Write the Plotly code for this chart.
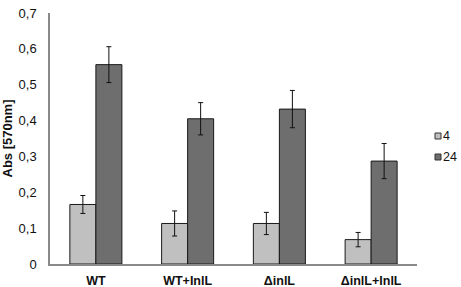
import plotly.graph_objects as go

categories = ["WT", "WT+InlL", "ΔinlL", "ΔinlL+InlL"]
series_names = ["4", "24"]
values_4 = [0.166, 0.113, 0.113, 0.068]
errors_4 = [0.025, 0.035, 0.031, 0.020]
values_24 = [0.556, 0.405, 0.432, 0.287]
errors_24 = [0.050, 0.045, 0.052, 0.049]
ytick_vals = [0, 0.1, 0.2, 0.3, 0.4, 0.5, 0.6, 0.7]
ytick_text = ["0", "0,1", "0,2", "0,3", "0,4", "0,5", "0,6", "0,7"]

font = "Liberation Sans, Arial, sans-serif"
colors = ["#c0c0c0", "#6e6e6e"]

fig = go.Figure()
for name, vals, errs, col in [(series_names[0], values_4, errors_4, colors[0]),
                              (series_names[1], values_24, errors_24, colors[1])]:
    fig.add_trace(go.Bar(
        x=categories, y=vals, name=name, showlegend=False,
        marker=dict(color=col, line=dict(color="#1a1a1a", width=1)),
        error_y=dict(type="data", array=errs, color="#111111", thickness=1, width=2.5),
    ))

W, H = 461, 287
ml, mr, mt, mb = 50, 44, 13, 23
pw, ph = W - ml - mr, H - mt - mb

def px_to_paper_x(px):
    return (px - ml) / pw

def px_to_paper_y(py):
    return (H - mb - py) / ph

# compact legend with small squares like the original
legend_y = [136, 157]
for name, col, yc in zip(series_names, colors, legend_y):
    fig.add_shape(type="rect", xref="paper", yref="paper",
                  x0=px_to_paper_x(435), x1=px_to_paper_x(441),
                  y0=px_to_paper_y(yc + 3), y1=px_to_paper_y(yc - 3),
                  fillcolor=col, line=dict(color="#333333", width=1))
    fig.add_annotation(xref="paper", yref="paper",
                       x=px_to_paper_x(441), y=px_to_paper_y(yc),
                       xanchor="left", yanchor="middle", showarrow=False,
                       text=name, font=dict(size=12.5, family=font, color="#111111"))

fig.update_layout(
    width=W, height=H,
    margin=dict(l=ml, r=mr, t=mt, b=mb),
    paper_bgcolor="white", plot_bgcolor="white",
    barmode="group", bargap=0.433, bargroupgap=0,
    font=dict(family=font, size=12, color="#111111"),
    showlegend=False,
    xaxis=dict(showline=True, linecolor="#8a8a8a", linewidth=1.5,
               ticks="", showgrid=False, automargin=False,
               ticklabelstandoff=4,
               tickfont=dict(size=12.5, family=font, weight="bold")),
    yaxis=dict(range=[0, 0.7], showline=True, linecolor="#8a8a8a", linewidth=1.5,
               showgrid=False, zeroline=False, ticks="", automargin=False,
               tickvals=ytick_vals, ticktext=ytick_text, ticklabelstandoff=9,
               tickfont=dict(size=13, family=font),
               title=dict(text="Abs [570nm]",
                          font=dict(size=13, family=font, weight="bold"),
                          standoff=12)),
)

fig.write_html("out.html",
               config={"displayModeBar": False},
               post_script="document.body.style.margin='0';document.body.style.overflow='hidden';")
